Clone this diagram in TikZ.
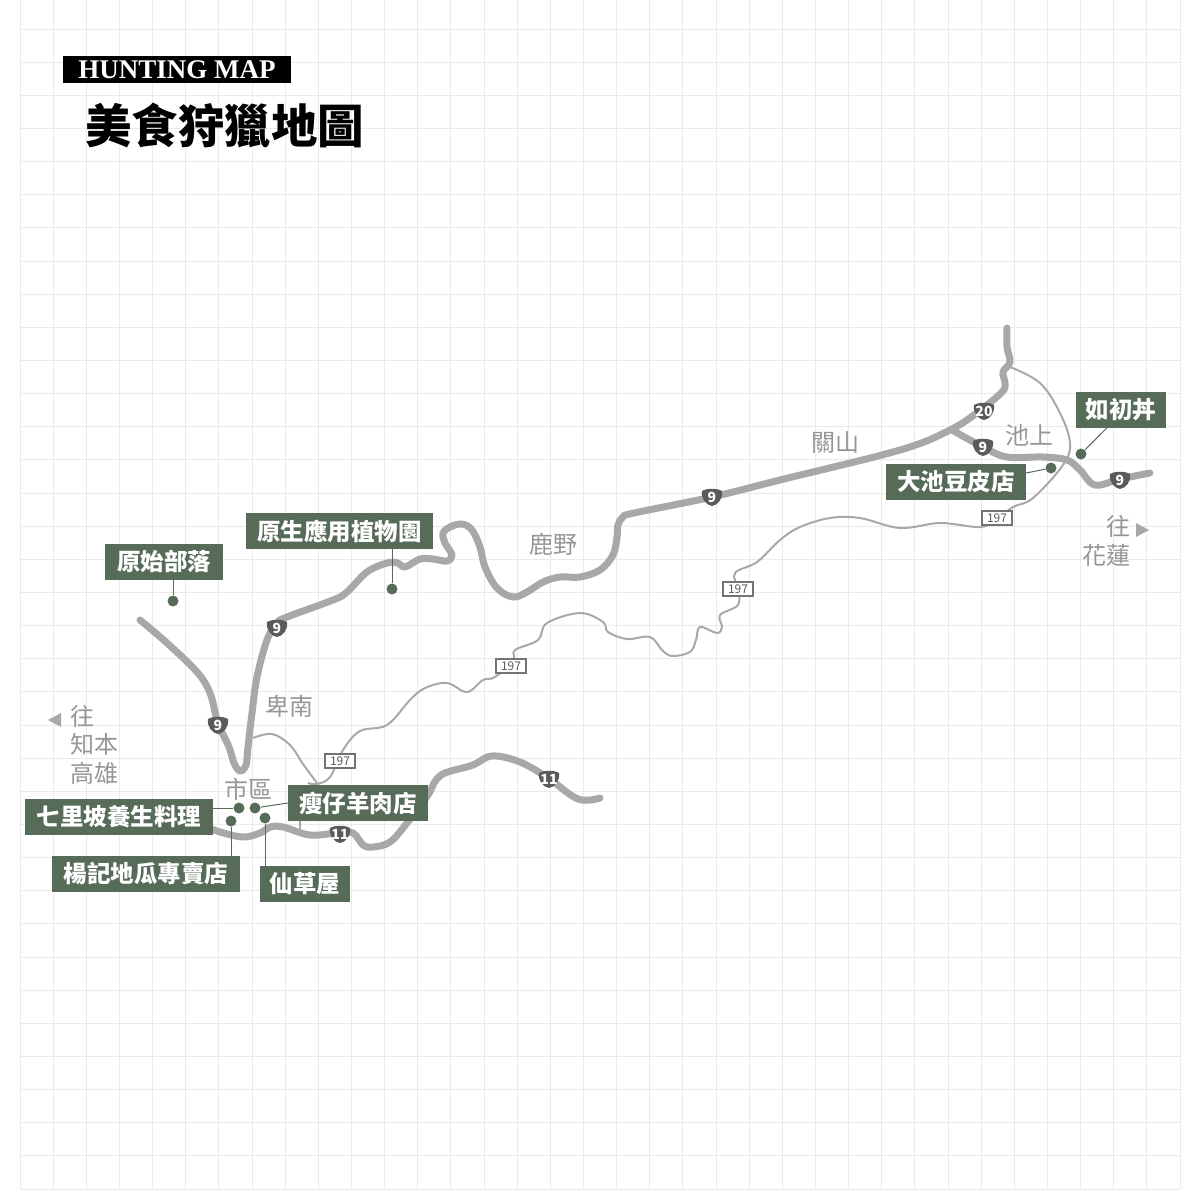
\documentclass[tikz,border=0pt]{standalone}
\usepackage{fontspec}
\setmainfont{Liberation Serif}
\newfontfamily\cjk{Noto Sans CJK TC}
\usetikzlibrary{positioning}

\definecolor{shopgreen}{HTML}{566B58}
\definecolor{roadgray}{HTML}{A8A8A8}
\definecolor{signgray}{HTML}{5A5A5A}
\definecolor{placegray}{HTML}{969696}
\definecolor{gridgray}{HTML}{EAEAEA}

\tikzset{
  shopbox/.style={fill=shopgreen,text=white,minimum height=36pt,inner sep=0pt,
    font=\cjk\bfseries\fontsize{23.5}{23.5}\selectfont},
  shopdot/.style={circle,fill=shopgreen,minimum size=11pt,inner sep=0pt},
  shopline/.style={draw=shopgreen,line width=1pt},
  bigroad/.style={draw=roadgray,line width=7pt,line cap=round,line join=round},
  thinroad/.style={draw=roadgray,line width=2pt,line join=round},
  placename/.style={text=placegray,inner sep=0pt,font=\cjk\fontsize{24}{24}\selectfont},
  sevensign/.style={draw=signgray!85,fill=white,line width=2pt,minimum width=30pt,minimum height=14pt,
    inner sep=0pt,text=signgray,font=\cjk\fontsize{12}{12}\selectfont},
  shieldtext/.style={text=white,inner sep=0pt,font=\cjk\bfseries\fontsize{14}{14}\selectfont},
  arrowtri/.style={fill=roadgray,draw=none}
}

% shield with its number
\newcommand{\roadshield}[3]{
  \fill[signgray,shift={(#2)}] (-10,-6) .. controls (-5,-9) and (5,-9) .. (10,-6)
    .. controls (11,2) and (6,8) .. (0,9) .. controls (-6,8) and (-11,2) .. (-10,-6) -- cycle;
  \node[shieldtext] (#1) at (#2) {#3};
}

\begin{document}
\begin{tikzpicture}[x=1pt,y=-1pt]
\useasboundingbox (0,0) rectangle (1200,1200);

% grid
\foreach \i in {0,...,35} {
  \draw[gridgray,line width=1pt] ({20+\i*33.143},0) -- ({20+\i*33.143},1189);
  \draw[gridgray,line width=1pt] (20,{29+\i*33.143}) -- (1180,{29+\i*33.143});
}

% title
\node[fill=black,text=white,minimum width=228pt,minimum height=27pt,inner sep=0pt,
  font=\bfseries\fontsize{27}{27}\selectfont] (TitleEn) at (177,69.5) {HUNTING MAP};
\node[inner sep=0pt,font=\cjk\bfseries\fontsize{46.5}{46.5}\selectfont] (TitleZh) at (224.5,126) {美食狩獵地圖};

% thin road 197
\draw[thinroad] plot[smooth,tension=.6] coordinates {(253,738) (272,734) (290,745) (303,764) (317,783)};
\draw[thinroad] plot[smooth,tension=.6] coordinates {(308,783) (317,784) (330,777) (343,750) (360,731) (387,725)
  (410,700) (425,688) (447,683) (467,692) (483,680) (495,677) (513,660) (515,650) (538,640) (547,623) (580,613)
  (603,622) (608,632) (627,639) (650,637) (662,650) (672,656) (690,652) (696,640) (700,627) (717,633) (722,627)
  (720,615) (738,605) (738,589) (735,573) (757,562) (780,540) (800,527) (830,518) (860,518) (900,528) (940,523)
  (980,527) (997,519) (1013,507) (1033,498) (1063,465) (1070,443) (1060,413) (1040,383) (1010,367)};
\draw[thinroad] (300,815) -- (300,829);

% road 9
\draw[bigroad] plot[smooth,tension=.6] coordinates {(140,620) (167,643) (197,672) (210,693) (218,723) (229,747)
  (234,763) (240,771) (246,765) (248,747) (252,713) (257,677) (267,640) (277,623) (287,617) (333,600) (347,592)
  (367,572) (387,563) (398,563) (405,567) (420,559) (433,559) (447,561) (452,555) (445,543) (443,533) (450,527)
  (462,524) (472,530) (480,547) (485,567) (497,588) (513,597) (527,592) (543,582) (560,577) (580,577) (600,570)
  (613,555) (617,537) (618,525) (623,517) (634,513) (712,497) (780,480) (900,450) (950,430) (978,412) (1002,392) (1005,383)
  (1003,372) (1010,362) (1007,347) (1007,328)};
\draw[bigroad] plot[smooth,tension=.6] coordinates {(952,430) (983,447) (1007,457) (1043,457) (1067,460) (1080,470)
  (1095,485) (1120,479) (1150,473)};

% road 11
\draw[bigroad] plot[smooth,tension=.6] coordinates {(205,826) (220,832) (243,837) (260,833) (270,827) (283,827)
  (310,835) (337,833) (353,833) (363,845) (373,847) (390,842) (407,823) (428,795) (434,783) (441,775) (451,771) (473,765)
  (492,756) (520,762) (548,778) (578,799) (600,798)};

% shields
\roadshield{ShieldA1}{218,725}{9}
\roadshield{ShieldA2}{277,628}{9}
\roadshield{ShieldA3}{712,497}{9}
\roadshield{ShieldA4}{983,447}{9}
\roadshield{ShieldA5}{1120,480}{9}
\roadshield{ShieldB1}{984,411}{20}
\roadshield{ShieldC1}{340,834}{11}
\roadshield{ShieldC2}{549,779}{11}

% signs 197
\node[sevensign] (SignA1) at (340,761) {197};
\node[sevensign] (SignA2) at (511,666) {197};
\node[sevensign] (SignA3) at (738,589) {197};
\node[sevensign] (SignA4) at (997,518) {197};

% place names
\node[placename] (PlaceA1) at (82,716) {往};
\node[placename] (PlaceA2) at (94,744) {知本};
\node[placename] (PlaceA3) at (94,773) {高雄};
\node[placename] (PlaceB1) at (289,706) {卑南};
\node[placename] (PlaceB2) at (248,789) {市區};
\node[placename] (PlaceB3) at (553,544) {鹿野};
\node[placename] (PlaceB4) at (835,443) {關山};
\node[placename] (PlaceB5) at (1029,435) {池上};
\node[placename] (PlaceC1) at (1118,526) {往};
\node[placename] (PlaceC2) at (1106,555) {花蓮};

% arrows
\fill[arrowtri] (48,720) -- (61,713) -- (61,727) -- cycle;
\fill[arrowtri] (1149,530) -- (1136,523) -- (1136,537) -- cycle;

% shops
\node[shopbox,minimum width=188pt] (ShopA1) at (119,817) {七里坡養生料理}; % 1
\node[shopdot] (DotA1) at (239,808) {};
\draw[shopline] (ShopA1.east |- DotA1) -- (DotA1);

\node[shopbox,minimum width=188pt] (ShopA2) at (146,874) {楊記地瓜專賣店}; % 2
\node[shopdot] (DotA2) at (231,821) {};
\draw[shopline] (DotA2) -- (DotA2 |- ShopA2.north);

\node[shopbox,minimum width=90pt] (ShopA3) at (305,884) {仙草屋}; % 3
\node[shopdot] (DotA3) at (265,818) {};
\draw[shopline] (DotA3) -- (DotA3 |- ShopA3.north);

\node[shopbox,minimum width=140pt] (ShopA4) at (358,803) {瘦仔羊肉店}; % 4
\node[shopdot] (DotA4) at (255,808) {};
\draw[shopline] (ShopA4.west) -- (DotA4);

\node[shopbox,minimum width=187pt] (ShopB1) at (339.5,531) {原生應用植物園};
\node[shopdot] (DotB1) at (392,589) {};
\draw[shopline] (DotB1) -- (DotB1 |- ShopB1.south);

\node[shopbox,minimum width=118pt] (ShopB2) at (164,561.5) {原始部落};
\node[shopdot] (DotB2) at (173,601) {};
\draw[shopline] (DotB2) -- (DotB2 |- ShopB2.south);

\node[shopbox,minimum width=90pt] (ShopC1) at (1121,409.5) {如初丼};
\node[shopdot] (DotC1) at (1081,454) {};
\draw[shopline] ([xshift=-14pt]ShopC1.south) -- (DotC1);

\node[shopbox,minimum width=140pt] (ShopC2) at (956,482) {大池豆皮店};
\node[shopdot] (DotC2) at (1051,468) {};
\draw[shopline] ([yshift=9pt]ShopC2.east) -- (DotC2);

\end{tikzpicture}
\end{document}
